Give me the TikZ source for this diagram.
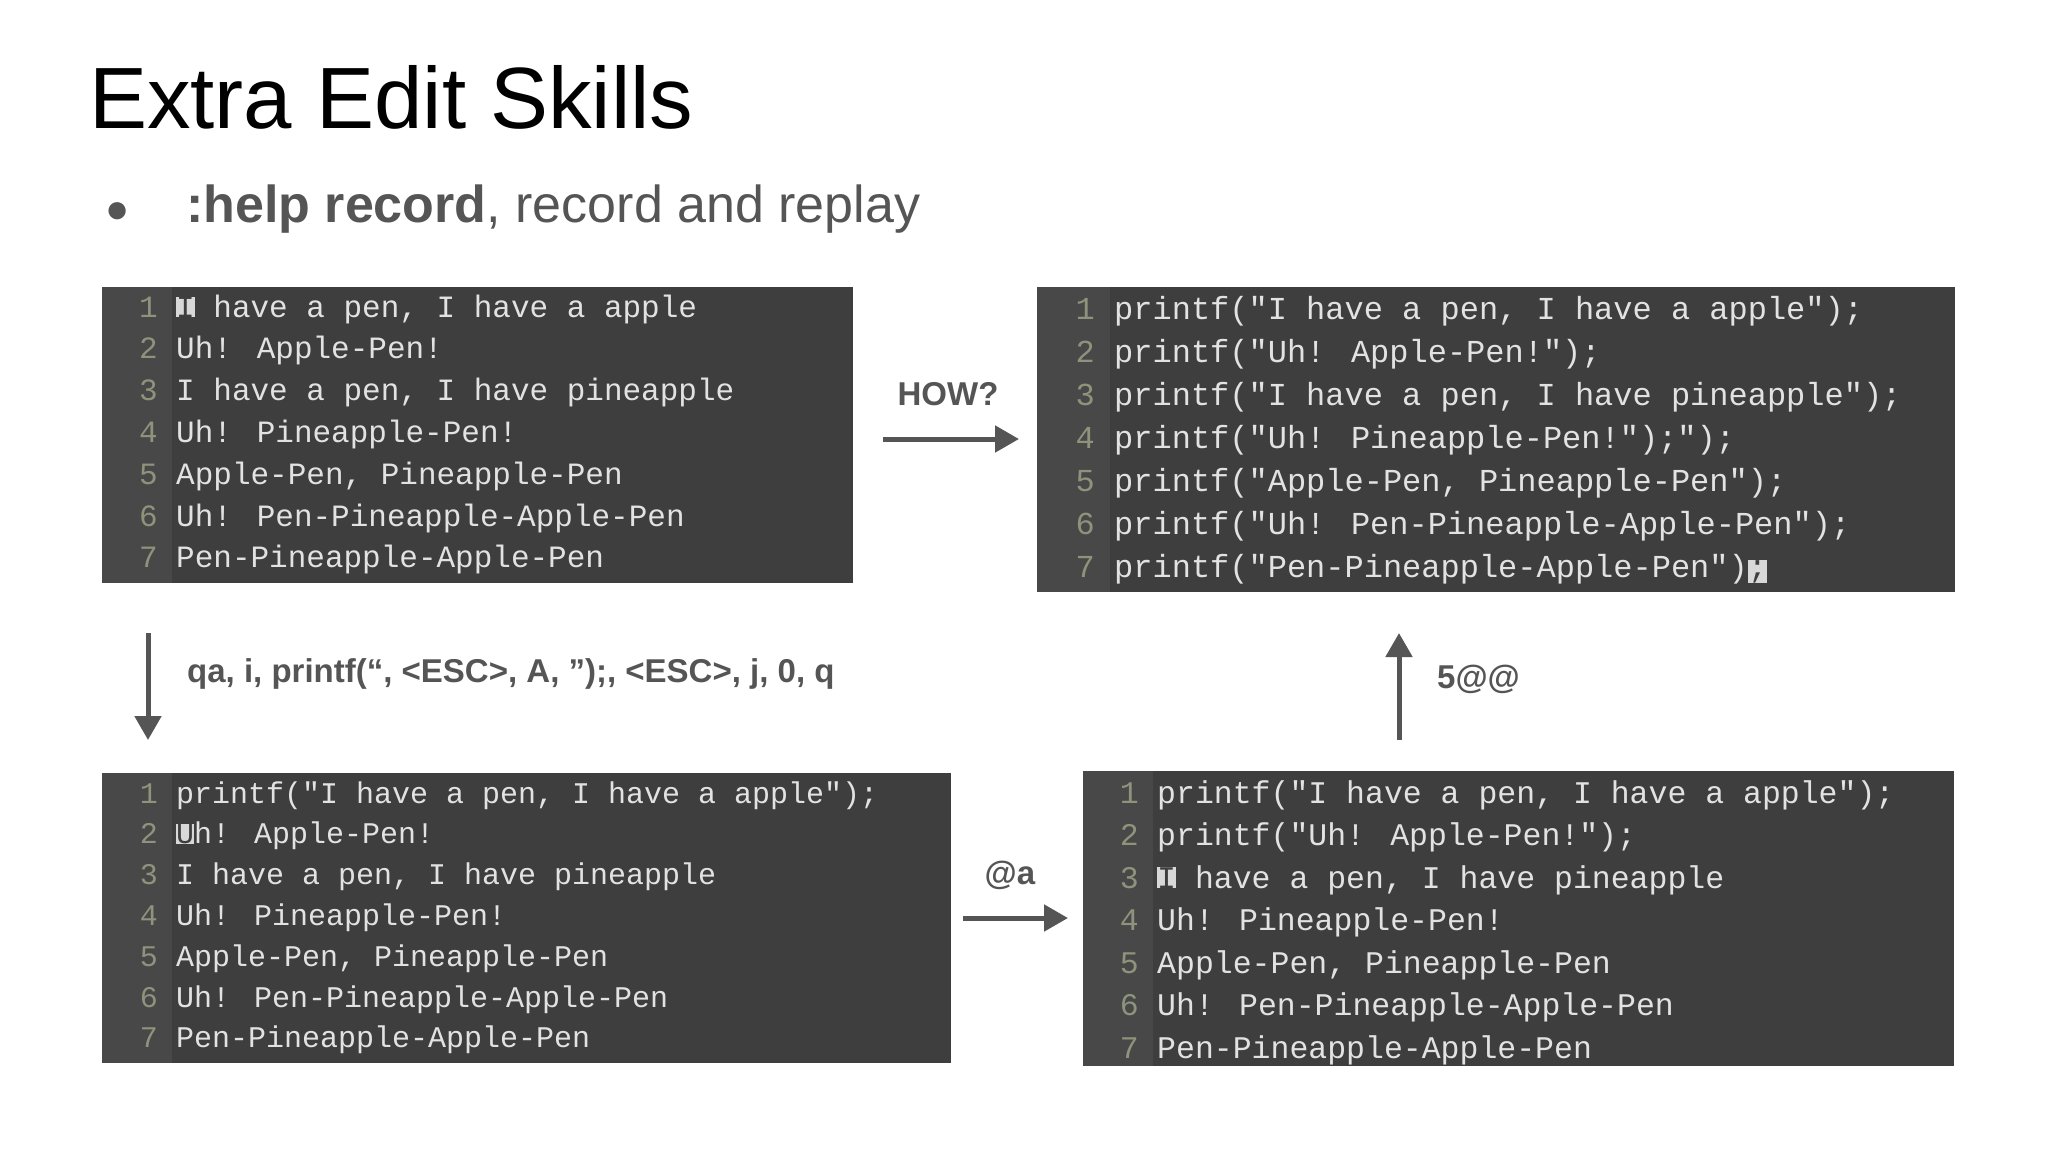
\documentclass[tikz,border=0pt]{standalone}
\usepackage{fontspec}
\setmainfont{Liberation Sans}
\newfontfamily\codefont{Liberation Mono}
\usetikzlibrary{arrows.meta}
\definecolor{body}{HTML}{3E3E3E}
\definecolor{gut}{HTML}{484848}
\definecolor{numc}{HTML}{8E937C}
\definecolor{txtc}{HTML}{E2E2E2}
\definecolor{curbg}{HTML}{D8D8D8}
\definecolor{arr}{HTML}{555555}
\newcommand\cur[1]{{\setlength\fboxsep{0pt}\colorbox{curbg}{\color{body}#1}}}
\tikzset{
  ln/.style={anchor=base west,inner sep=0pt,text=txtc},
  num/.style={anchor=base east,inner sep=0pt,text=numc},
  lab/.style={inner sep=0pt,text=arr,font=\bfseries\fontsize{33}{40}\selectfont},
  conn/.style={draw=arr,line width=5pt,-{Triangle[length=24pt,width=26pt]}}
}
\begin{document}
\begin{tikzpicture}[x=1pt,y=-1pt]
\useasboundingbox[fill=white] (0,0) rectangle (2048,1152);
\node[anchor=base west,inner sep=0pt,font=\fontsize{87}{100}\selectfont] (title) at (89,128) {Extra Edit Skills};
\node[anchor=base west,inner sep=0pt,text=arr,font=\fontsize{40}{48}\selectfont] (bul) at (105,222) {●};
\node[anchor=base west,inner sep=0pt,text=arr,font=\fontsize{52}{60}\selectfont] (sub) at (186,222) {\textbf{:help record}, record and replay};
% Panel 1
\fill[body] (102,287) rectangle (853,583);
\fill[gut] (102,287) rectangle (172,583);
\foreach \i/\t in {1/{\cur{I} have a pen, I have a apple},2/{Uh! Apple-Pen!},3/{I have a pen, I have pineapple},4/{Uh! Pineapple-Pen!},5/{Apple-Pen, Pineapple-Pen},6/{Uh! Pen-Pineapple-Apple-Pen},7/{Pen-Pineapple-Apple-Pen}}{
  \node[num,font=\codefont\fontsize{31}{36}\selectfont] (pa\i) at (158,{317+41.8*(\i-1)}) {\i};
  \node[ln,font=\codefont\fontsize{31}{36}\selectfont] (ta\i) at (176,{317+41.8*(\i-1)}) {\t};
}
% Panel 2
\fill[body] (1037,287) rectangle (1955,592);
\fill[gut] (1037,287) rectangle (1110,592);
\foreach \i/\t in {1/{printf("I have a pen, I have a apple");},2/{printf("Uh! Apple-Pen!");},3/{printf("I have a pen, I have pineapple");},4/{printf("Uh! Pineapple-Pen!");");},5/{printf("Apple-Pen, Pineapple-Pen");},6/{printf("Uh! Pen-Pineapple-Apple-Pen");},7/{printf("Pen-Pineapple-Apple-Pen")\cur{;}}}{
  \node[num,font=\codefont\fontsize{32}{36}\selectfont] (pb\i) at (1095,{319+43*(\i-1)}) {\i};
  \node[ln,font=\codefont\fontsize{32}{36}\selectfont] (tb\i) at (1114,{319+43*(\i-1)}) {\t};
}
% Panel 3
\fill[body] (102,773) rectangle (951,1063);
\fill[gut] (102,773) rectangle (172,1063);
\foreach \i/\t in {1/{printf("I have a pen, I have a apple");},2/{\cur{U}h! Apple-Pen!},3/{I have a pen, I have pineapple},4/{Uh! Pineapple-Pen!},5/{Apple-Pen, Pineapple-Pen},6/{Uh! Pen-Pineapple-Apple-Pen},7/{Pen-Pineapple-Apple-Pen}}{
  \node[num,font=\codefont\fontsize{30}{36}\selectfont] (pc\i) at (158,{803+40.8*(\i-1)}) {\i};
  \node[ln,font=\codefont\fontsize{30}{36}\selectfont] (tc\i) at (176,{803+40.8*(\i-1)}) {\t};
}
% Panel 4
\fill[body] (1083,771) rectangle (1954,1066);
\fill[gut] (1083,771) rectangle (1153,1066);
\foreach \i/\t in {1/{printf("I have a pen, I have a apple");},2/{printf("Uh! Apple-Pen!");},3/{\cur{I} have a pen, I have pineapple},4/{Uh! Pineapple-Pen!},5/{Apple-Pen, Pineapple-Pen},6/{Uh! Pen-Pineapple-Apple-Pen},7/{Pen-Pineapple-Apple-Pen}}{
  \node[num,font=\codefont\fontsize{31.5}{36}\selectfont] (pd\i) at (1139,{803+42.5*(\i-1)}) {\i};
  \node[ln,font=\codefont\fontsize{31.5}{36}\selectfont] (td\i) at (1157,{803+42.5*(\i-1)}) {\t};
}
% arrows
\coordinate (h1) at (883,439); \coordinate (h2) at (1019,439);
\draw[conn] (h1) -- (h2);
\node[lab] (how) at (948,394) {HOW?};
\coordinate (d1) at (148,633); \coordinate (d2) at (148,740);
\draw[conn] (d1) -- (d2);
\node[lab,anchor=west] (qa) at (187,674) {qa, i, printf(“, <ESC>, A, ”);, <ESC>, j, 0, q};
\coordinate (a1) at (963,918); \coordinate (a2) at (1068,918);
\draw[conn] (a1) -- (a2);
\node[lab] (ata) at (1010,875) {@a};
\coordinate (u1) at (1399,740); \coordinate (u2) at (1399,633);
\draw[conn] (u1) -- (u2);
\node[lab,anchor=west] (five) at (1437,679) {5@@};
\end{tikzpicture}
\end{document}
